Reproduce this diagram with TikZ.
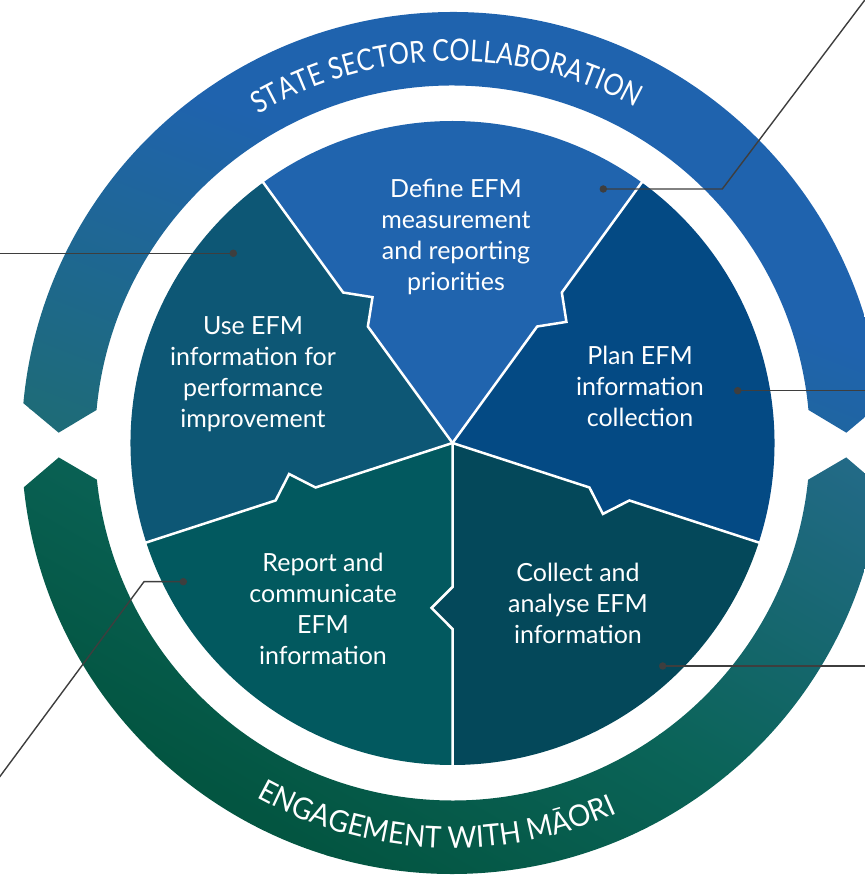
\documentclass[tikz,border=0pt]{standalone}
\usepackage{fontspec}
\setmainfont{Lato}
\newfontfamily\ringfontA[FakeStretch=0.84]{Lato}
\newfontfamily\ringfontB[FakeStretch=0.93]{Lato}
\usetikzlibrary{decorations.text}
\definecolor{cDefine}{HTML}{2064AE}
\definecolor{cPlan}{HTML}{044A84}
\definecolor{cUse}{HTML}{0D5775}
\definecolor{cReport}{HTML}{02595F}
\definecolor{cCollect}{HTML}{04485A}
\definecolor{ringBlue}{HTML}{1F63AE}
\definecolor{ringTeal}{HTML}{1E6B78}
\definecolor{ringGreen}{HTML}{035541}
\definecolor{ringMid}{HTML}{0B6459}
\definecolor{ringSea}{HTML}{236A88}
\definecolor{leader}{HTML}{3E3E3E}
\tikzset{
  wedgetext/.style={text=white, align=center, font=\fontsize{25}{31}\selectfont, inner sep=0pt},
  leaderline/.style={draw=leader, line width=1.4pt},
  dotnode/.style={circle, fill=leader, inner sep=0pt, minimum size=7.5pt},
  seam/.style={draw=white, line width=2.5pt, line join=miter},
}
\begin{document}
\begin{tikzpicture}[x=1pt,y=1pt]
\useasboundingbox (0,0) rectangle (865,879);
\clip (0,0) rectangle (865,879);
% outer ring, upper half (blue fading to teal at lower left)
\begin{scope}
  \clip[shift={(452.5,436)}]
    (5.3:431) arc[start angle=5.3, end angle=174.7, radius=431]
    -- (178.5:394) -- (174.7:357.5)
    arc[start angle=174.7, end angle=5.3, radius=357.5]
    -- (1.5:394) -- cycle;
  \begin{scope}[transform canvas={rotate around={-21:(452.5,436)}}]
    \fill[ringTeal] (-347.5,-364) rectangle (1252.5,317);
    \shade[bottom color=ringTeal, top color=ringBlue] (-347.5,316) rectangle (1252.5,670);
    \fill[ringBlue] (-347.5,669) rectangle (1252.5,1236);
  \end{scope}
\end{scope}
% outer ring, lower half (dark green fading to sea blue at upper right)
\begin{scope}
  \clip[shift={(452.5,436)}]
    (185.9:431) arc[start angle=185.9, end angle=354.1, radius=431]
    -- (357.9:394) -- (354.1:357.5)
    arc[start angle=354.1, end angle=185.9, radius=357.5]
    -- (182.1:394) -- cycle;
  \begin{scope}[transform canvas={rotate around={-30:(452.5,436)}}]
    \fill[ringGreen] (-347.5,-364) rectangle (1252.5,17);
    \shade[bottom color=ringGreen, top color=ringMid] (-347.5,16) rectangle (1252.5,287);
    \shade[bottom color=ringMid, top color=ringSea] (-347.5,286) rectangle (1252.5,627);
    \fill[ringSea] (-347.5,626) rectangle (1252.5,1236);
  \end{scope}
\end{scope}
\begin{scope}[shift={(452.5,436)}]
% ring labels
\path[decorate, decoration={text along path, text align=center, text color=white,
  text={|\ringfontA\fontsize{30}{30}\selectfont|STATE SECTOR COLLABORATION}}]
  (151:382) arc[start angle=151, end angle=31, radius=382];
\path[decorate, decoration={text along path, text align=center, text color=white,
  text={|\ringfontB\fontsize{30}{30}\selectfont|ENGAGEMENT WITH MĀORI}}]
  (207.5:405) arc[start angle=207.5, end angle=327.5, radius=405];
% wedges
\foreach \a/\col in {-18/cPlan, 54/cDefine, 126/cUse, 198/cReport, 270/cCollect}{
  \fill[\col] (0,0) -- (\a:144) -- ({\a-7.25}:166.3) -- (\a:186) -- (\a:322)
    arc[start angle=\a, end angle={\a+72}, radius=322]
    -- ({\a+72}:186) -- ({\a+64.75}:166.3) -- ({\a+72}:144) -- cycle;
}
\foreach \b in {-18,54,126,198,270}{
  \draw[seam] (0,0) -- (\b:144) -- ({\b-7.25}:166.3) -- (\b:186) -- (\b:323);
}
% wedge labels
\node[wedgetext] (tDefine) at (3.5,206.5) {Define EFM\\measurement\\and reporting\\priorities};
\node[wedgetext] (tUse) at (-199.5,69) {Use EFM\\information for\\performance\\improvement};
\node[wedgetext] (tPlan) at (187.5,57) {Plan EFM\\information\\collection};
\node[wedgetext] (tCollect) at (125.5,-160.5) {Collect and\\analyse EFM\\information};
\node[wedgetext] (tReport) at (-129.5,-166) {Report and\\communicate\\EFM\\information};
% leader lines
\node[dotnode] (dDefine) at (150.8,254) {};
\coordinate (kDefine) at (269.8,254);
\coordinate (eDefine) at (441,481);
\draw[leaderline] (dDefine.center) -- (kDefine) -- (eDefine);
\node[dotnode] (dUse) at (-219.2,189.7) {};
\coordinate (eUse) at (-470,189.7);
\draw[leaderline] (dUse.center) -- (eUse);
\node[dotnode] (dPlan) at (285.2,52.3) {};
\coordinate (ePlan) at (430,52.3);
\draw[leaderline] (dPlan.center) -- (ePlan);
\node[dotnode] (dCollect) at (210.2,-223) {};
\coordinate (eCollect) at (430,-223);
\draw[leaderline] (dCollect.center) -- (eCollect);
\node[dotnode] (dReport) at (-269.2,-138.7) {};
\coordinate (kReport) at (-308.5,-138.7);
\coordinate (eReport) at (-467,-353);
\draw[leaderline] (dReport.center) -- (kReport) -- (eReport);
\end{scope}
\end{tikzpicture}
\end{document}
